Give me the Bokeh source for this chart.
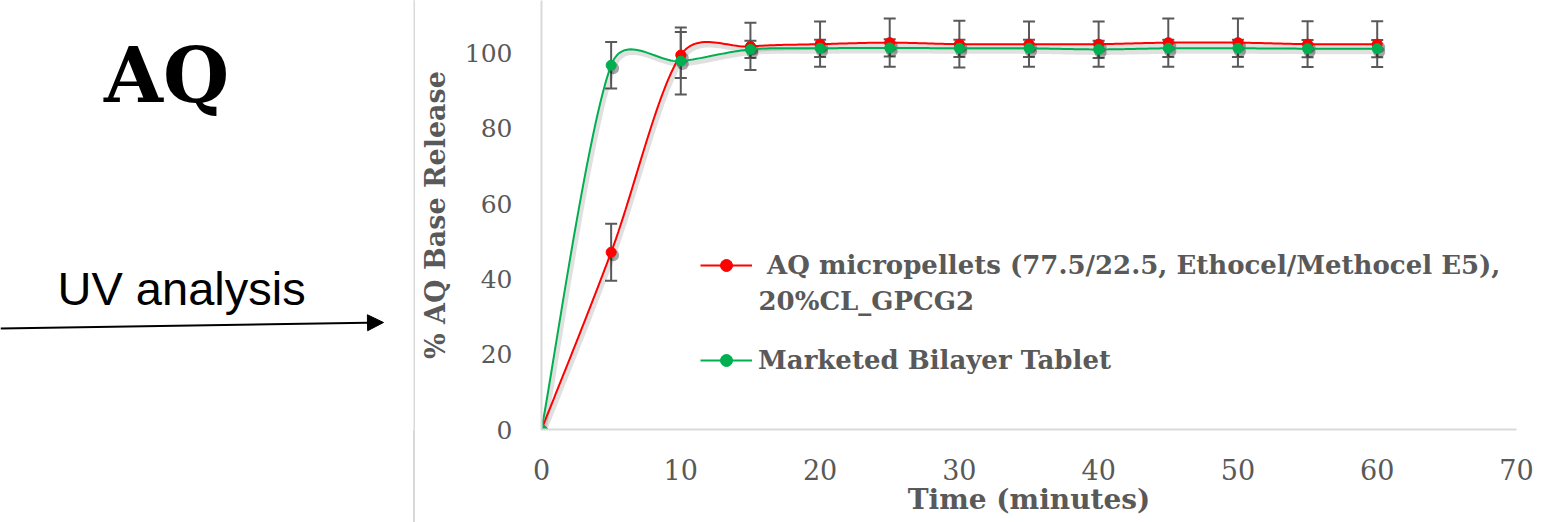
import numpy as np
from bokeh.plotting import figure
from bokeh.models import (ColumnDataSource, Range1d, FixedTicker, Whisker, TeeHead, Label,
                          Legend, LegendItem, Span, Arrow, NormalHead)
from bokeh.layouts import row
from bokeh.embed import file_html
from bokeh.resources import INLINE

# ---------------- data ----------------
time_min = [0, 5, 10, 15, 20, 25, 30, 35, 40, 45, 50, 55, 60]
aq_micropellets = [0, 47.1, 99.5, 101.8, 102.4, 102.8, 102.4, 102.4, 102.4, 102.8, 102.8, 102.4, 102.4]
aq_micropellets_sd = [0, 7.6, 6.1, 6.3, 6.0, 6.4, 6.2, 6.0, 6.0, 6.4, 6.4, 6.1, 6.1]
marketed_tablet = [0, 96.8, 97.9, 101.0, 101.3, 101.4, 101.3, 101.3, 101.0, 101.3, 101.3, 101.2, 101.2]
marketed_tablet_sd = [0, 6.2, 8.9, 2.3, 2.3, 2.3, 2.3, 2.3, 2.3, 2.3, 2.3, 2.3, 2.3]
series_names = [" AQ micropellets (77.5/22.5, Ethocel/Methocel E5),", "Marketed Bilayer Tablet"]
series_name_cont = "20%CL_GPCG2"
series_colors = ["#FF0000", "#00B050"]
x_ticks = [0, 10, 20, 30, 40, 50, 60, 70]
y_ticks = [0, 20, 40, 60, 80, 100]
x_title = "Time (minutes)"
y_title = "% AQ Base Release"
title_text = "AQ"
side_text = "UV analysis"

# ---------------- geometry ----------------
FIG_H = 522
LEFT_W = 415
MAIN_W = 1142
BORDER_L, BORDER_R, BORDER_T, BORDER_B = 126, 41, 0, 93
X_RANGE = (0, 70)
Y_RANGE = (0, 114)
frame_w = MAIN_W - BORDER_L - BORDER_R
frame_h = FIG_H - BORDER_T - BORDER_B
kx = frame_w / (X_RANGE[1] - X_RANGE[0])
ky = frame_h / (Y_RANGE[1] - Y_RANGE[0])

GRAY_TXT = "#595959"
AXIS_GRAY = "#d9d9d9"
LEG_FONT = "26px"


def smooth(xs, ys, n=30):
    """Excel-like smoothed line through the points (Bezier segments)."""
    P = np.column_stack([xs, ys]).astype(float)
    S = P * np.array([kx, ky])
    m = len(P)
    out = [P[0]]
    t = np.linspace(0, 1, n)[1:][:, None]
    for i in range(m - 1):
        i0, i3 = max(i - 1, 0), min(i + 2, m - 1)
        p0, p1, p2, p3 = P[i0], P[i], P[i + 1], P[i3]
        d01 = np.linalg.norm(S[i] - S[i0])
        d12 = np.linalg.norm(S[i + 1] - S[i])
        d23 = np.linalg.norm(S[i3] - S[i + 1])
        s1 = min(1.0, np.sqrt(2 * d12 / (d01 + d12))) if d01 > 0 else 1.0
        s2 = min(1.0, np.sqrt(2 * d12 / (d12 + d23))) if d23 > 0 else 1.0
        c1 = p1 + (p2 - p0) / 6 * s1
        c2 = p2 - (p3 - p1) / 6 * s2
        seg = ((1 - t) ** 3) * p1 + 3 * ((1 - t) ** 2) * t * c1 + 3 * (1 - t) * t ** 2 * c2 + t ** 3 * p2
        out.extend(seg)
    out = np.array(out)
    return out[:, 0], out[:, 1]


# ---------------- left panel (frame coordinates = page pixels) ----------------
left = figure(width=LEFT_W, height=FIG_H, x_range=Range1d(0, LEFT_W), y_range=Range1d(frame_h, 0),
              min_border_left=0, min_border_right=0, min_border_top=BORDER_T, min_border_bottom=BORDER_B,
              toolbar_location=None, output_backend="svg",
              x_axis_location=None, y_axis_location=None, outline_line_color=None,
              border_fill_alpha=0)
left.grid.visible = False
left.add_layout(Label(x=166, y=75, text=title_text, text_align="center", text_baseline="middle",
                      text_font="DejaVu Serif", text_font_style="bold", text_font_size="76px",
                      text_color="black"))
left.add_layout(Label(x=57, y=288, text=side_text, text_align="left", text_baseline="middle",
                      text_font="Liberation Sans", text_font_size="47px", text_color="black"))
left.add_layout(Arrow(x_start=0, y_start=328, x_end=383, y_end=322, line_color="black", line_width=2,
                      end=NormalHead(size=16, fill_color="black", line_color="black")))
left.add_layout(Span(location=LEFT_W - 1, dimension="height", line_color=AXIS_GRAY, line_width=2))

# ---------------- main chart ----------------
p = figure(width=MAIN_W, height=FIG_H, x_range=Range1d(*X_RANGE), y_range=Range1d(*Y_RANGE),
           min_border_left=BORDER_L, min_border_right=BORDER_R, min_border_top=BORDER_T,
           min_border_bottom=BORDER_B, toolbar_location=None, output_backend="svg",
           outline_line_color=None)
p.grid.visible = False

for ax, ticks, size in ((p.xaxis[0], x_ticks, "27px"), (p.yaxis[0], y_ticks, "25px")):
    ax.ticker = FixedTicker(ticks=ticks)
    ax.major_tick_out = 0
    ax.major_tick_in = 0
    ax.minor_tick_out = 0
    ax.minor_tick_in = 0
    ax.axis_line_color = AXIS_GRAY
    ax.axis_line_width = 2
    ax.major_label_text_font = "DejaVu Serif"
    ax.major_label_text_font_size = size
    ax.major_label_text_color = GRAY_TXT
    ax.major_label_standoff = 29
    ax.axis_label_text_font = "DejaVu Serif"
    ax.axis_label_text_font_style = "bold"
    ax.axis_label_text_color = GRAY_TXT

p.xaxis[0].axis_label = x_title
p.xaxis[0].axis_label_text_font_size = "28px"
p.xaxis[0].axis_label_standoff = 0
p.yaxis[0].axis_label = y_title
p.yaxis[0].axis_label_text_font_size = "27px"
p.yaxis[0].axis_label_standoff = 11

# shadow offsets (px -> data units)
sdx, sdy = 2 / kx, -3 / ky

series = [(aq_micropellets, aq_micropellets_sd), (marketed_tablet, marketed_tablet_sd)]
for (vals, sd), color in zip(series, series_colors):
    sx, sy = smooth(time_min, vals)
    p.line(sx + sdx, sy + sdy, line_color="black", line_alpha=0.12, line_width=5)
    p.scatter(np.array(time_min) + sdx, np.array(vals) + sdy, size=12, fill_color="black",
              fill_alpha=0.35, line_color=None)
    keep = [i for i, e in enumerate(sd) if e > 0]
    src = ColumnDataSource(dict(x=[time_min[i] for i in keep],
                                upper=[vals[i] + sd[i] for i in keep],
                                lower=[vals[i] - sd[i] for i in keep]))
    p.add_layout(Whisker(base="x", upper="upper", lower="lower", source=src, line_color=GRAY_TXT,
                         line_width=2, level="underlay",
                         upper_head=TeeHead(size=12, line_color=GRAY_TXT, line_width=2),
                         lower_head=TeeHead(size=12, line_color=GRAY_TXT, line_width=2)))

items = []
for (vals, sd), name, color in zip(series, series_names, series_colors):
    sx, sy = smooth(time_min, vals)
    ln = p.line(sx, sy, line_color=color, line_width=2)
    pts = p.scatter(time_min, vals, size=10, fill_color=color, line_color=color)
    items.append(LegendItem(label=name, renderers=[ln, pts]))

# legend (page px: glyph left 700, rows centred at 265 and 360)
LEG_X, LEG_GH, LEG_ROW1, LEG_ROW2 = 700, 30, 265, 360
legend = Legend(items=items,
                location=(LEG_X - (LEFT_W + BORDER_L), frame_h - (LEG_ROW2 + LEG_GH / 2)),
                orientation="vertical", glyph_width=52, glyph_height=LEG_GH, label_standoff=6,
                spacing=LEG_ROW2 - LEG_ROW1 - LEG_GH, padding=0, margin=0,
                border_line_alpha=0, background_fill_alpha=0,
                label_text_font="DejaVu Serif", label_text_font_style="bold",
                label_text_font_size=LEG_FONT, label_text_color=GRAY_TXT)
p.add_layout(legend, "center")
# wrapped second line of the first legend entry
p.add_layout(Label(x=(LEG_X + 58 - (LEFT_W + BORDER_L)) / kx, y=(frame_h - 300) / ky,
                   text=series_name_cont, text_align="left", text_baseline="middle",
                   text_font="DejaVu Serif", text_font_style="bold", text_font_size=LEG_FONT,
                   text_color=GRAY_TXT))

sep = (f"linear-gradient(to right, transparent {LEFT_W - 2}px, {AXIS_GRAY} {LEFT_W - 2}px, "
       f"{AXIS_GRAY} {LEFT_W}px, transparent {LEFT_W}px)")
layout = row(left, p, spacing=0, styles={"background": sep})
open("out.html", "w").write(file_html(layout, INLINE))
